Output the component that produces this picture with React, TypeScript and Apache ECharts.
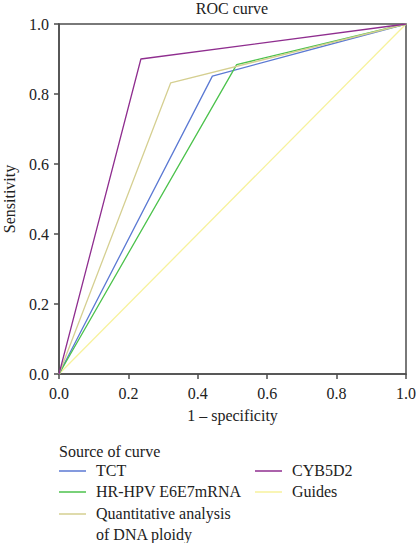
import React, { useEffect, useRef } from "react";
import * as echarts from "echarts";

const seriesNames = ["TCT", "HR-HPV E6E7mRNA", "Quantitative analysis of DNA ploidy", "CYB5D2", "Guides"];
const seriesColors = ["#5b79d3", "#4cc24c", "#d5cf91", "#8f2e8f", "#f7f29c"];
const tctX = [0, 0.442, 1];
const tctY = [0, 0.851, 1];
const hpvX = [0, 0.512, 1];
const hpvY = [0, 0.884, 1];
const dnaX = [0, 0.322, 1];
const dnaY = [0, 0.832, 1];
const cybX = [0, 0.236, 1];
const cybY = [0, 0.9, 1];
const guideX = [0, 1];
const guideY = [0, 1];
const xTicks = ["0.0", "0.2", "0.4", "0.6", "0.8", "1.0"];

const FONT = "Liberation Serif";

export default function App() {
  const ref = useRef<HTMLDivElement>(null);
  useEffect(() => {
    if (!ref.current) return;
    const chart = echarts.init(ref.current, null, { renderer: "svg" });
    const pairs = [
      [tctX, tctY],
      [hpvX, hpvY],
      [dnaX, dnaY],
      [cybX, cybY],
      [guideX, guideY],
    ];
    const order = [4, 0, 1, 2, 3];
    const series = order.map((i) => ({
      name: seriesNames[i],
      type: "line",
      data: pairs[i][0].map((x, k) => [x, pairs[i][1][k]]),
      showSymbol: false,
      symbol: "none",
      lineStyle: { color: seriesColors[i], width: 1.3 },
      itemStyle: { color: seriesColors[i] },
      z: 2,
    }));

    const legendItems: any[] = [];
    legendItems.push({
      type: "text",
      x: 59,
      y: 451,
      style: {
        text: "Source of curve",
        fontFamily: FONT,
        fontSize: 16,
        fill: "#222",
        verticalAlign: "middle",
      },
    });
    const cols = [
      { idx: [0, 1, 2], x: 59 },
      { idx: [3, 4], x: 255 },
    ];
    const rowY = [471, 492, 514];
    cols.forEach((c) => {
      c.idx.forEach((si, r) => {
        const y = rowY[r];
        legendItems.push({
          type: "line",
          shape: { x1: c.x, y1: y, x2: c.x + 27, y2: y },
          style: { stroke: seriesColors[si], lineWidth: 1.5 },
        });
        const label = si === 2 ? "Quantitative analysis\nof DNA ploidy" : seriesNames[si];
        legendItems.push({
          type: "text",
          x: c.x + 37,
          y: y - 11,
          style: {
            text: label,
            fontFamily: FONT,
            fontSize: 16,
            fill: "#222",
            lineHeight: 21,
            verticalAlign: "top",
          },
        });
      });
    });

    chart.setOption({
      animation: false,
      title: {
        text: "ROC curve",
        left: 232,
        textAlign: "center",
        top: 0,
        padding: 0,
        textStyle: { fontFamily: FONT, fontSize: 16, fontWeight: "normal", color: "#222" },
      },
      grid: {
        left: 59,
        top: 24,
        right: 10,
        height: 350,
        show: true,
        borderColor: "#4d4d4d",
        borderWidth: 1.5,
        backgroundColor: "#fff",
        outerBoundsMode: "none",
        containLabel: false,
      },
      xAxis: {
        type: "value",
        min: 0,
        max: 1,
        interval: 0.2,
        name: "1 – specificity",
        nameLocation: "middle",
        nameGap: 33,
        nameTextStyle: { fontFamily: FONT, fontSize: 16, color: "#222" },
        axisLine: { show: true, lineStyle: { color: "#4d4d4d", width: 1.5 } },
        axisTick: { show: true, length: 5, lineStyle: { color: "#4d4d4d", width: 1.5 } },
        axisLabel: {
          fontFamily: FONT,
          fontSize: 16,
          color: "#222",
          margin: 11,
          formatter: (v: number) => xTicks[Math.round(v * 5)] ?? v.toFixed(1),
        },
        splitLine: { show: false },
      },
      yAxis: {
        type: "value",
        min: 0,
        max: 1,
        interval: 0.2,
        name: "Sensitivity",
        nameLocation: "middle",
        nameGap: 42,
        nameTextStyle: { fontFamily: FONT, fontSize: 16, color: "#222" },
        axisLine: { show: true, lineStyle: { color: "#4d4d4d", width: 1.5 } },
        axisTick: { show: true, length: 5, lineStyle: { color: "#4d4d4d", width: 1.5 } },
        axisLabel: {
          fontFamily: FONT,
          fontSize: 16,
          color: "#222",
          margin: 10,
          formatter: (v: number) => xTicks[Math.round(v * 5)] ?? v.toFixed(1),
        },
        splitLine: { show: false },
      },
      series,
      graphic: legendItems,
    });
    return () => chart.dispose();
  }, []);
  return <div ref={ref} style={{ width: 416, height: 543, position: "absolute", left: 0, top: 0 }} />;
}
